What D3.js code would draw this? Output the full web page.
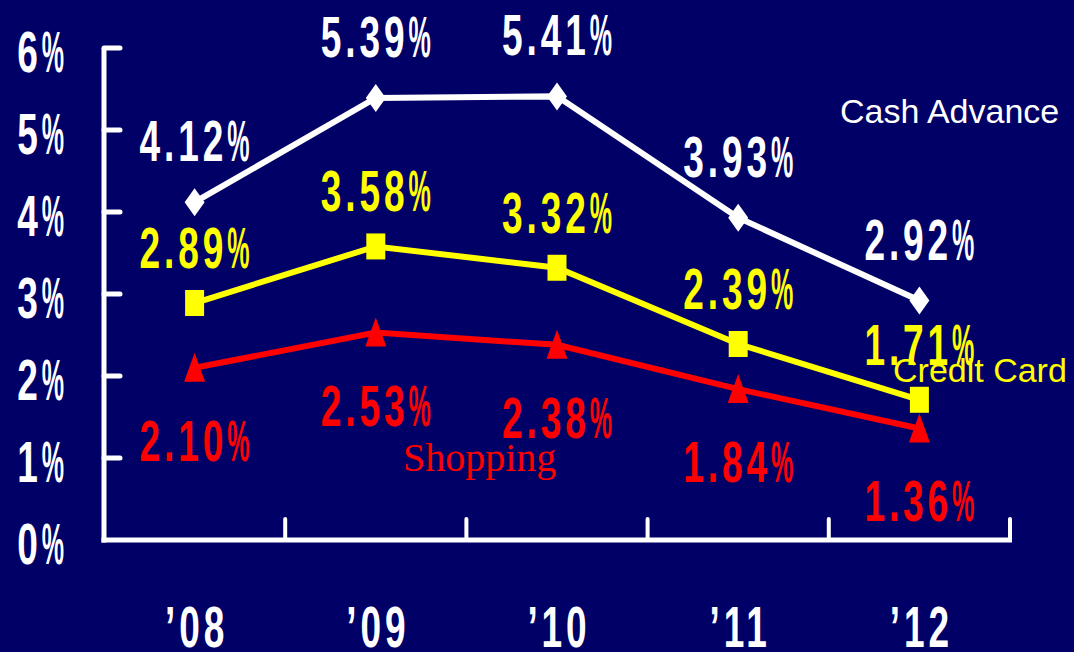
<!DOCTYPE html>
<html>
<head>
<meta charset="utf-8">
<script src="https://cdn.jsdelivr.net/npm/d3@7"></script>
<style>
  html, body { margin: 0; padding: 0; background: #000066; }
  svg { display: block; }
</style>
</head>
<body>
<div id="chart"></div>
<script>
// data
var years = ["\u201908", "\u201909", "\u201910", "\u201911", "\u201912"]
var cashAdvance = [4.12, 5.39, 5.41, 3.93, 2.92]
var creditCard = [2.89, 3.58, 3.32, 2.39, 1.71]
var shopping = [2.10, 2.53, 2.38, 1.84, 1.36]
var yTicks = [0, 1, 2, 3, 4, 5, 6]

var width = 1074
var height = 652
var bg = "#000066"
var labelFont = "'Liberation Sans', Arial, sans-serif"
var sx = 0.65

var svg = d3.select("#chart")
	.append("svg")
	.attr("width", width)
	.attr("height", height)

svg.append("rect")
	.attr("width", width)
	.attr("height", height)
	.attr("fill", bg)

var x = d3.scaleBand().domain(years).range([104, 1010])
var y = d3.scaleLinear().domain([0, 6]).range([540, 48])
var cx = function (d, i) { return x(years[i]) + x.bandwidth() / 2 }

// condensed gothic-like label: narrow bold glyphs with wide spacing, narrow "%"
function pctLabel(parent, num, px, py, anchor, color) {
	var g = parent.append("g")
	var t1 = g.append("text")
		.attr("transform", "scale(" + sx + ",1)")
		.attr("fill", color)
		.style("font-family", labelFont)
		.style("font-weight", "bold")
		.style("font-size", "57px")
		.style("letter-spacing", "6px")
		.text(num)
	var w1 = t1.node().getComputedTextLength() * sx
	g.append("text")
		.attr("transform", "translate(" + w1 + ",0) scale(0.44,1)")
		.attr("fill", color)
		.style("font-family", labelFont)
		.style("font-weight", "bold")
		.style("font-size", "57px")
		.text("%")
	var w = w1 + 0.889 * 57 * 0.44
	var x0 = anchor == "middle" ? px - w / 2 : (anchor == "end" ? px - w : px)
	g.attr("transform", "translate(" + x0 + "," + py + ")")
}

// axes
svg.append("line")
	.attr("x1", 104).attr("x2", 104)
	.attr("y1", y(6)).attr("y2", y(0) + 2.5)
	.attr("stroke", "white").attr("stroke-width", 5)

svg.append("line")
	.attr("x1", 101.5).attr("x2", 1012)
	.attr("y1", y(0)).attr("y2", y(0))
	.attr("stroke", "white").attr("stroke-width", 5)

svg.selectAll(".ytick")
	.data(yTicks.filter(function (d) { return d > 0 }))
	.enter().append("line")
	.attr("class", "ytick")
	.attr("x1", 104).attr("x2", 120)
	.attr("y1", function (d) { return y(d) }).attr("y2", function (d) { return y(d) })
	.attr("stroke", "white").attr("stroke-width", 5)
	.attr("stroke-linecap", "round")

// x ticks at band edges
var xEdges = years.map(function (d) { return x(d) + x.bandwidth() })
svg.selectAll(".xtick")
	.data(xEdges)
	.enter().append("line")
	.attr("class", "xtick")
	.attr("x1", function (d) { return d }).attr("x2", function (d) { return d })
	.attr("y1", y(0)).attr("y2", y(0) - 21)
	.attr("stroke", "white").attr("stroke-width", 4)
	.attr("stroke-linecap", "round")

// tick labels
yTicks.forEach(function (d) {
	pctLabel(svg, String(d), 64, y(d) + 24, "end", "white")
})

svg.selectAll(".xlab")
	.data(years)
	.enter().append("text")
	.attr("class", "xlab")
	.attr("transform", function (d) { return "translate(" + (x(d) + x.bandwidth() / 2 + 2) + ",647) scale(" + sx + ",1)" })
	.attr("text-anchor", "middle")
	.attr("fill", "white")
	.style("font-family", labelFont)
	.style("font-weight", "bold")
	.style("font-size", "57px")
	.style("letter-spacing", "6px")
	.text(function (d) { return d })

// series
var series = [
	{ name: "Cash Advance", values: cashAdvance, color: "white", marker: "diamond", dy: -61 },
	{ name: "Credit Card", values: creditCard, color: "#ffff00", marker: "square", dy: -55 },
	{ name: "Shopping", values: shopping, color: "#ff0000", marker: "triangle", dy: 73 }
]

var markers = {
	diamond: "M0,-14L10,0L0,14L-10,0Z",
	square: "M-9.5,-13L9.5,-13L9.5,13L-9.5,13Z",
	triangle: "M0,-15L10.5,14L-10.5,14Z"
}

var line = d3.line()
	.x(cx)
	.y(function (d) { return y(d) })

series.slice().reverse().forEach(function (s) {
	var g = svg.append("g")

	g.append("path")
		.datum(s.values)
		.attr("d", line)
		.attr("fill", "none")
		.attr("stroke", s.color)
		.attr("stroke-width", 6)

	g.selectAll(".mark")
		.data(s.values)
		.enter().append("path")
		.attr("class", "mark")
		.attr("transform", function (d, i) { return "translate(" + cx(d, i) + "," + y(d) + ")" })
		.attr("d", markers[s.marker])
		.attr("fill", s.color)
})

series.forEach(function (s) {
	s.values.forEach(function (d, i) {
		pctLabel(svg, d.toFixed(2), cx(d, i), y(d) + s.dy + 20, "middle", s.color)
	})
})

// series names
svg.append("text")
	.attr("x", 840).attr("y", 123)
	.attr("fill", "white")
	.style("font-family", labelFont)
	.style("font-size", "34px")
	.text(series[0].name)

svg.append("text")
	.attr("x", 893).attr("y", 382)
	.attr("fill", "#ffff00")
	.style("font-family", labelFont)
	.style("font-size", "34px")
	.text(series[1].name)

svg.append("text")
	.attr("x", 403).attr("y", 471)
	.attr("fill", "#ff0000")
	.style("font-family", "'Liberation Serif', 'Times New Roman', serif")
	.style("font-size", "40px")
	.text(series[2].name)
</script>
</body>
</html>
